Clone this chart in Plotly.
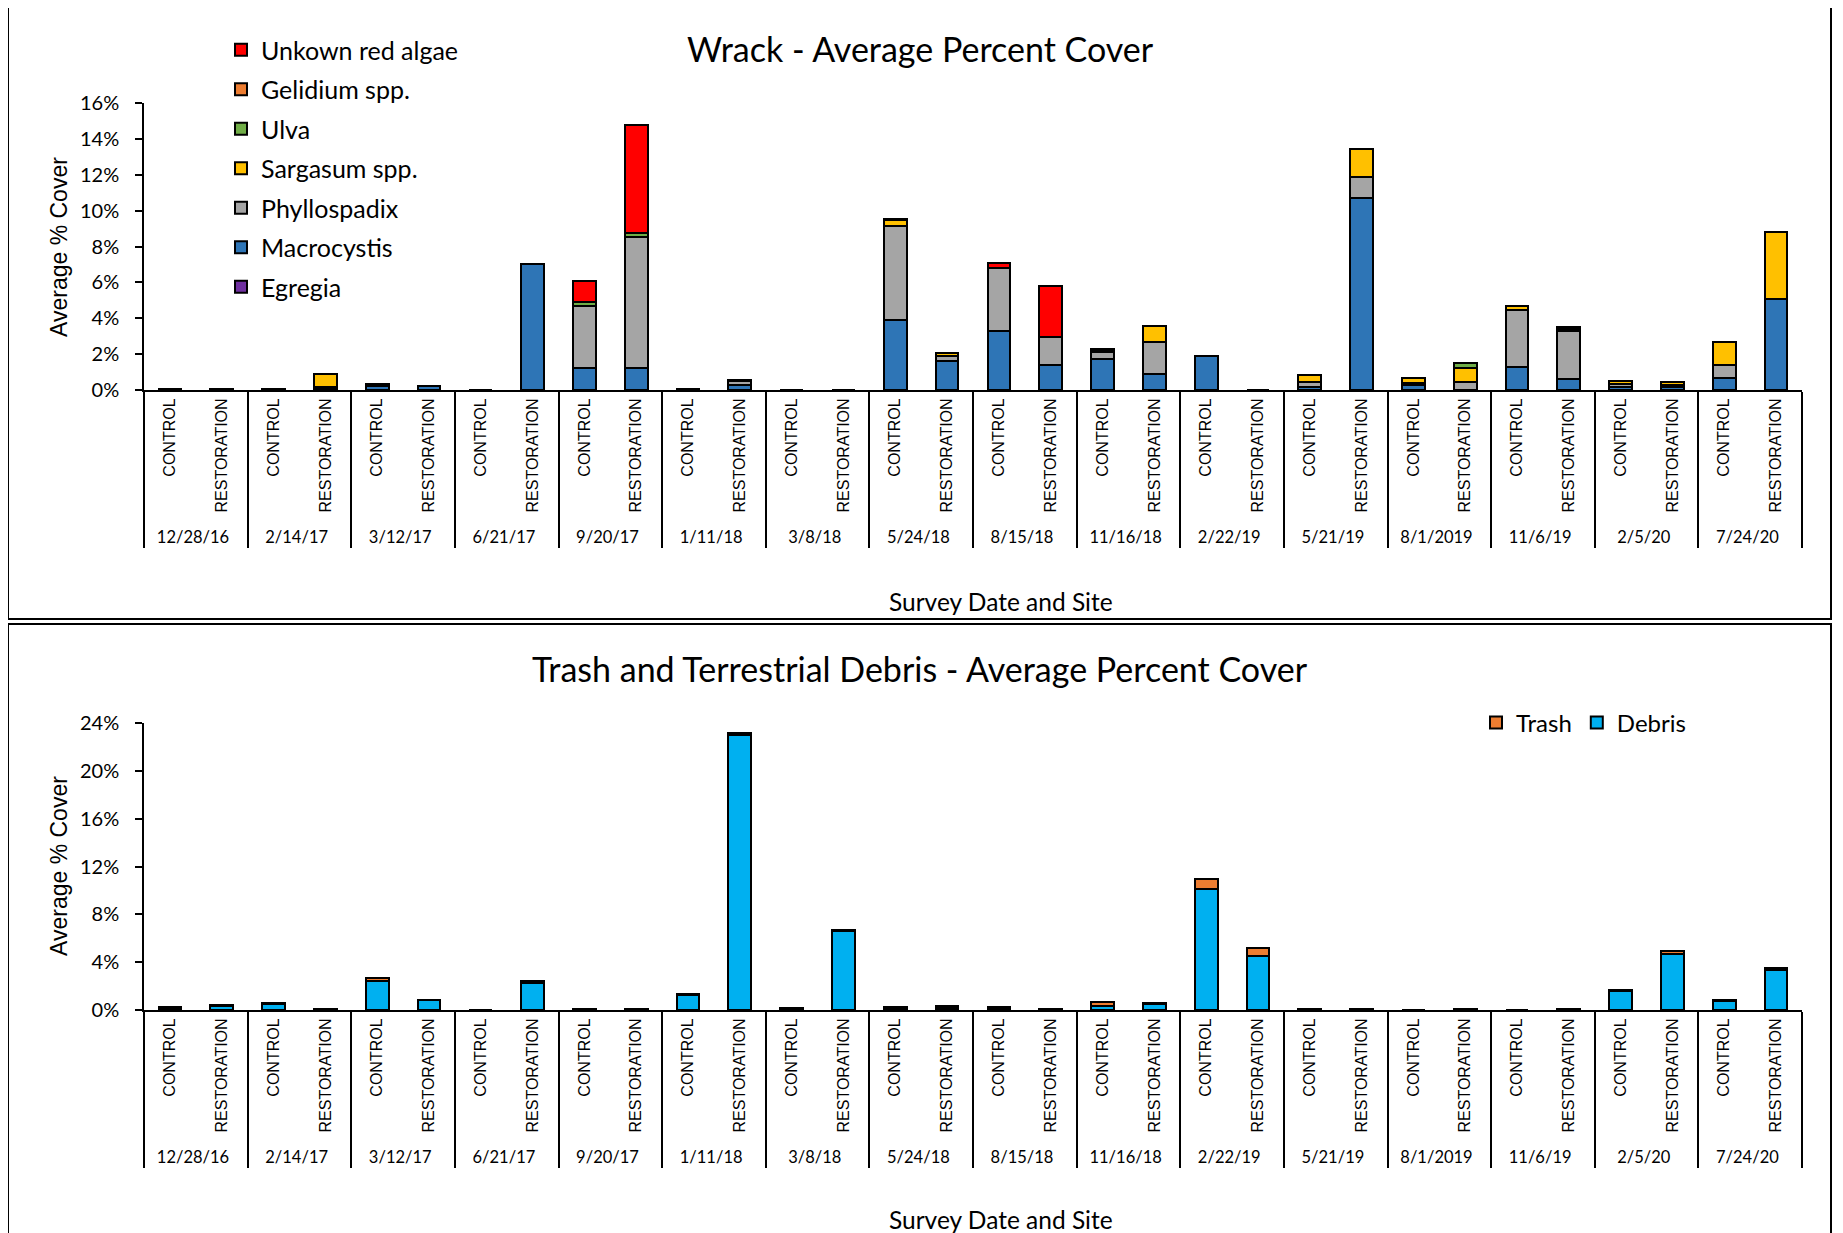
import plotly.graph_objects as go

# ---------------- data ----------------
dates = ["12/28/16", "2/14/17", "3/12/17", "6/21/17", "9/20/17", "1/11/18", "3/8/18",
         "5/24/18", "8/15/18", "11/16/18", "2/22/19", "5/21/19", "8/1/2019", "11/6/19",
         "2/5/20", "7/24/20"]
sites = ["CONTROL", "RESTORATION"]

# Wrack average % cover (order: each date -> CONTROL, RESTORATION)
egregia = [0, 0, 0, 0, 0, 0, 0, 0, 0, 0, 0, 0, 0, 0, 0, 0,
           0, 0, 0, 0, 0, 0, 0, 0, 0, 0, 0, 0, 0, 0, 0, 0]
macrocystis = [0.03, 0.03, 0.03, 0.10, 0.20, 0.22, 0, 7.00, 1.25, 1.21, 0.05, 0.26, 0, 0, 3.90, 1.62,
               3.29, 1.39, 1.71, 0.87, 1.88, 0, 0.17, 10.69, 0.28, 0, 1.28, 0.61, 0.17, 0.17, 0.65, 5.06]
phyllospadix = [0, 0, 0, 0.08, 0, 0, 0, 0, 3.41, 7.32, 0, 0.24, 0, 0, 5.26, 0.28,
                3.53, 1.56, 0.43, 1.83, 0, 0, 0.29, 1.21, 0.10, 0.43, 3.16, 2.68, 0.19, 0.10, 0.76, 0]
sargasum = [0, 0, 0, 0.72, 0.15, 0, 0, 0, 0, 0, 0, 0.05, 0, 0, 0.30, 0.18,
            0, 0, 0.05, 0.85, 0, 0, 0.38, 1.54, 0.30, 0.82, 0.26, 0.10, 0.13, 0.20, 1.25, 3.73]
ulva = [0, 0, 0, 0, 0, 0, 0, 0, 0.22, 0.20, 0, 0, 0, 0, 0, 0,
        0, 0, 0, 0, 0, 0, 0, 0, 0, 0.24, 0, 0, 0, 0, 0, 0]
gelidium = [0, 0, 0, 0, 0, 0, 0, 0, 0, 0, 0, 0, 0, 0, 0.10, 0,
            0, 0, 0.10, 0, 0, 0, 0, 0, 0, 0, 0, 0.10, 0, 0, 0, 0]
red_algae = [0, 0, 0, 0, 0, 0, 0, 0, 1.20, 6.04, 0, 0, 0, 0, 0, 0,
             0.25, 2.85, 0, 0, 0, 0, 0, 0, 0, 0, 0, 0, 0, 0, 0, 0]

# Trash and terrestrial debris average % cover
debris = [0.15, 0.35, 0.50, 0.03, 2.46, 0.80, 0, 2.30, 0.04, 0.04, 1.28, 23.00, 0.10, 6.60, 0.05, 0.20,
          0.05, 0.04, 0.36, 0.50, 10.08, 4.48, 0.05, 0.05, 0, 0.05, 0, 0.04, 1.62, 4.70, 0.78, 3.33]
trash = [0.07, 0.07, 0.09, 0.02, 0.23, 0.07, 0, 0.16, 0.02, 0.02, 0.04, 0.20, 0.07, 0.10, 0.20, 0.16,
         0.20, 0.02, 0.30, 0.09, 0.84, 0.73, 0.03, 0.03, 0, 0.03, 0, 0.03, 0.06, 0.23, 0.06, 0.20]

wrack_ticks = [0, 2, 4, 6, 8, 10, 12, 14, 16]
debris_ticks = [0, 4, 8, 12, 16, 20, 24]

# ---------------- figure ----------------
# the page body has an 8px margin: the figure is placed so it fills the window
OFF = 8
FW, FH = 1843 - OFF, 1233 - OFF


def px(x):
    return (x - OFF) / FW


def py(y):
    return 1 - (y - OFF) / FH


CAL = "Lato, 'Open Sans', sans-serif"
ARIAL = "'Liberation Sans', Arial, sans-serif"

date_lbl = [f"<span style='font-family:Lato;font-size:16.5px'>{d}</span>" for d in dates]
x_lvl0 = [d for d in date_lbl for _ in sites]
x_lvl1 = [s for _ in dates for s in sites]
x_multi = [x_lvl0, x_lvl1]

fig = go.Figure()

wrack_series = [
    ("Egregia", egregia, "#7030A0"),
    ("Macrocystis", macrocystis, "#2E75B6"),
    ("Phyllospadix", phyllospadix, "#A5A5A5"),
    ("Sargasum spp.", sargasum, "#FFC000"),
    ("Ulva", ulva, "#70AD47"),
    ("Gelidium spp.", gelidium, "#ED7D31"),
    ("Unkown red algae", red_algae, "#FF0000"),
]
for i, (name, vals, col) in enumerate(wrack_series):
    fig.add_trace(go.Bar(x=x_multi, y=vals, name=name, marker_color=col,
                         marker_line_color="black", marker_line_width=2,
                         xaxis="x", yaxis="y", legend="legend", legendgroup=name,
                         legendrank=1000 - i))

for i, (name, vals, col) in enumerate([("Debris", debris, "#00B0F0"), ("Trash", trash, "#ED7D31")]):
    fig.add_trace(go.Bar(x=x_multi, y=vals, name=name, marker_color=col,
                         marker_line_color="black", marker_line_width=2,
                         xaxis="x2", yaxis="y2", legend="legend2", legendrank=1000 - i))

xdom = [px(144), px(1802)]
common_x = dict(type="multicategory", domain=xdom, tickangle=-90,
                tickfont=dict(family=ARIAL, size=16, color="black"),
                showline=True, linecolor="black", linewidth=2, ticks="",
                showdividers=True, dividercolor="black", dividerwidth=1.5,
                showgrid=False, zeroline=False, automargin=False)
common_y = dict(showline=True, linecolor="black", linewidth=1.5, ticks="outside",
                ticklen=7, tickwidth=1.5, tickcolor="black", showgrid=False,
                zeroline=False, automargin=False, tickmode="array",
                tickfont=dict(family=CAL, size=20, color="black"), ticklabelstandoff=12)

fig.update_layout(
    width=FW, height=FH, margin=dict(l=0, r=0, t=0, b=0),
    paper_bgcolor="white", plot_bgcolor="white", barmode="stack", bargap=0.56,
    showlegend=True,
    xaxis=dict(anchor="y", **common_x),
    yaxis=dict(anchor="x", domain=[py(390), py(103)], range=[0, 16],
               tickvals=wrack_ticks, ticktext=[f"{v}%" for v in wrack_ticks], **common_y),
    xaxis2=dict(anchor="y2", **common_x),
    yaxis2=dict(anchor="x2", domain=[py(1010), py(723)], range=[0, 24],
                tickvals=debris_ticks, ticktext=[f"{v}%" for v in debris_ticks], **common_y),
    legend=dict(x=px(221), y=py(27), xanchor="left", yanchor="top",
                traceorder="grouped", tracegroupgap=4,
                font=dict(family=CAL, size=25, color="black"), bgcolor="rgba(0,0,0,0)"),
    legend2=dict(x=px(1476), y=py(723), xanchor="left", yanchor="middle",
                 orientation="h", traceorder="normal",
                 font=dict(family=CAL, size=24, color="black"), bgcolor="rgba(0,0,0,0)"),
)

# chart frames
fig.add_shape(type="rect", xref="paper", yref="paper", x0=px(8), x1=px(1831),
              y0=py(619), y1=py(6), line=dict(color="black", width=2))
fig.add_shape(type="rect", xref="paper", yref="paper", x0=px(8), x1=px(1831),
              y0=-0.05, y1=py(624), line=dict(color="black", width=2))

ann = dict(xref="paper", yref="paper", showarrow=False, xanchor="center", yanchor="middle")
fig.add_annotation(text="Wrack - Average Percent Cover", x=px(920), y=py(49),
                   font=dict(family=CAL, size=34, color="black"), **ann)
fig.add_annotation(text="Trash and Terrestrial Debris - Average Percent Cover", x=px(920),
                   y=py(668), font=dict(family=CAL, size=34, color="black"), **ann)
fig.add_annotation(text="Survey Date and Site", x=px(1001), y=py(601),
                   font=dict(family=CAL, size=24.5, color="black"), **ann)
fig.add_annotation(text="Survey Date and Site", x=px(1001), y=py(1219),
                   font=dict(family=CAL, size=24.5, color="black"), **ann)
fig.add_annotation(text="Average % Cover", x=px(59), y=py(247), textangle=-90,
                   font=dict(family=ARIAL, size=23, color="black"), **ann)
fig.add_annotation(text="Average % Cover", x=px(59), y=py(866), textangle=-90,
                   font=dict(family=ARIAL, size=23, color="black"), **ann)

fig.write_html("out.html")
